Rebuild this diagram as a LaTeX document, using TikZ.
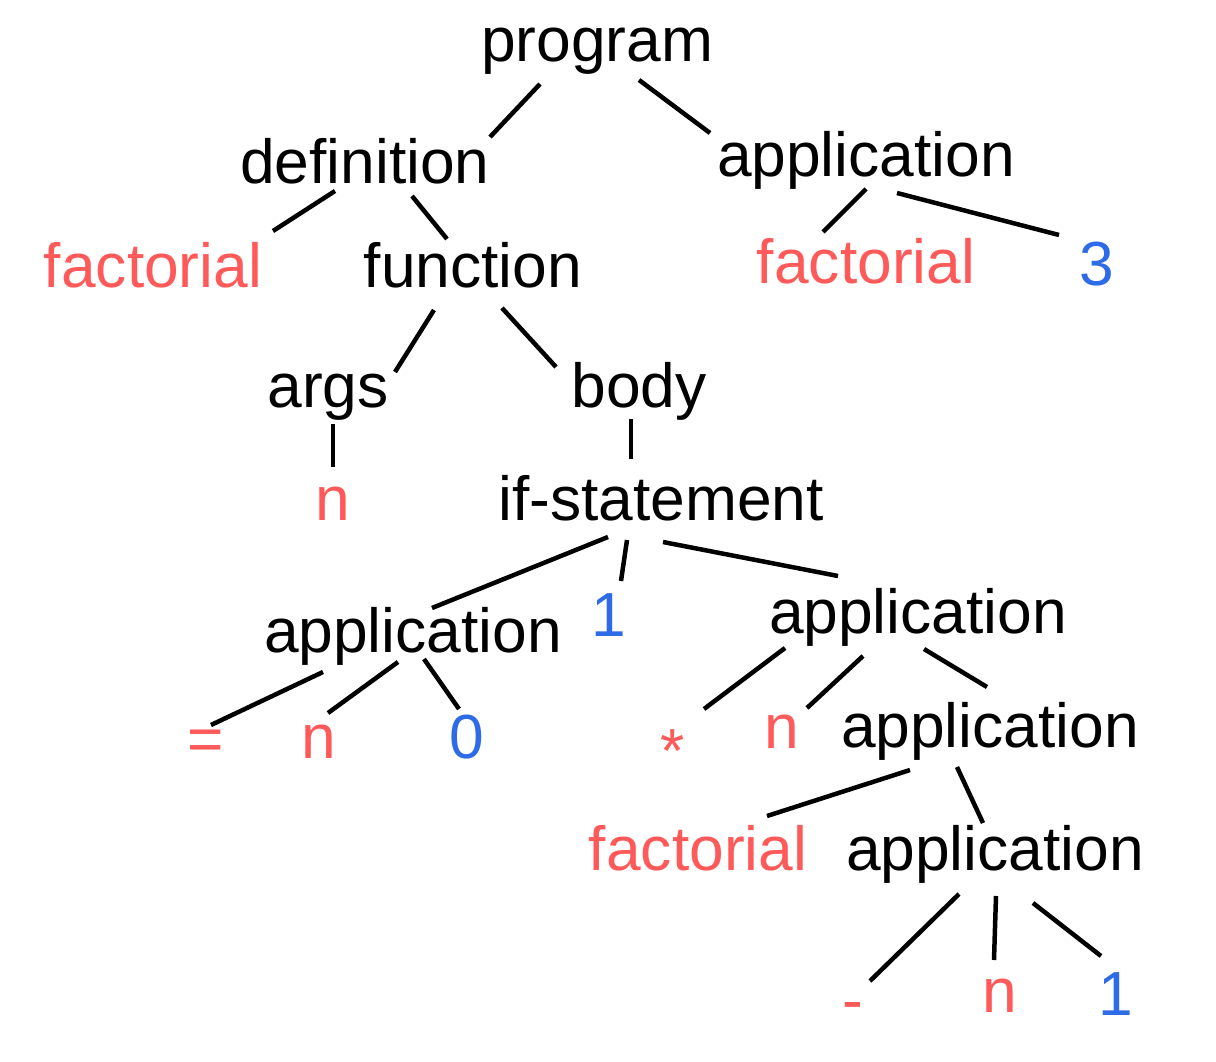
\documentclass[tikz,border=0pt]{standalone}
\usepackage{fontspec}
\setmainfont{Liberation Sans}
\definecolor{tred}{HTML}{FF5A5A}
\definecolor{tblue}{HTML}{2E6BE6}
\begin{document}
\begin{tikzpicture}[x=1pt,y=-1pt,
  lbl/.style={anchor=base,inner sep=0pt,font=\fontsize{62.3}{75}\selectfont},
  leaf/.style={lbl,text=tred},
  num/.style={lbl,text=tblue},
  edge/.style={draw=black,line width=4.5pt}]
\useasboundingbox[fill=white] (0,0) rectangle (1216,1062);
% nodes
\node[lbl]  (prog)  at (597,62)   {program};
\node[lbl]  (def)   at (365,183)  {definition};
\node[lbl]  (appT)  at (866,176)  {application};
\node[leaf] (factL) at (153,287)  {factorial};
\node[lbl]  (func)  at (473,287)  {function};
\node[leaf] (factT) at (866,283)  {factorial};
\node[num]  (three) at (1097,285) {3};
\node[lbl]  (args)  at (328,407)  {args};
\node[lbl]  (body)  at (639,407)  {body};
\node[leaf] (nA)    at (333,520)  {n};
\node[lbl]  (ifs)   at (661,520)  {if-statement};
\node[lbl]  (appL)  at (413,652)  {application};
\node[num]  (oneA)  at (609,636)  {1};
\node[lbl]  (appRa) at (918,633)  {application};
\node[leaf] (eq)    at (206,760)  {=};
\node[leaf] (nL)    at (319,758)  {n};
\node[num]  (zero)  at (467,758)  {0};
\node[leaf] (star)  at (673,772)  {*};
\node[leaf] (nR)    at (782,748)  {n};
\node[lbl]  (appRb) at (990,747)  {application};
\node[leaf] (factR) at (698,870)  {factorial};
\node[lbl]  (appRc) at (995,870)  {application};
\node[leaf] (minus) at (853,1021) {-};
\node[leaf] (nB)    at (1000,1012){n};
\node[num]  (oneB)  at (1116,1015){1};
% connectors
\draw[edge] ([shift={(-57,22)}]prog.base)   -- ([shift={(125,-46)}]def.base);
\draw[edge] ([shift={(42,18)}]prog.base)    -- ([shift={(-156,-43)}]appT.base);
\draw[edge] ([shift={(-30,8)}]def.base)     -- ([shift={(120,-56)}]factL.base);
\draw[edge] ([shift={(47,13)}]def.base)     -- ([shift={(-26,-48)}]func.base);
\draw[edge] ([shift={(0,13)}]appT.base)     -- ([shift={(-43,-51)}]factT.base);
\draw[edge] ([shift={(31,17)}]appT.base)    -- ([shift={(-38,-50)}]three.base);
\draw[edge] ([shift={(-39,23)}]func.base)   -- ([shift={(67,-35)}]args.base);
\draw[edge] ([shift={(29,21)}]func.base)    -- ([shift={(-83,-40)}]body.base);
\draw[edge] ([shift={(5,17)}]args.base)     -- ([shift={(0,-53)}]nA.base);
\draw[edge] ([shift={(-8,12)}]body.base)    -- ([shift={(-30,-61)}]ifs.base);
\draw[edge] ([shift={(-53,17)}]ifs.base)    -- ([shift={(19,-44)}]appL.base);
\draw[edge] ([shift={(-34,20)}]ifs.base)    -- ([shift={(12,-55)}]oneA.base);
\draw[edge] ([shift={(2,22)}]ifs.base)      -- ([shift={(-80,-57)}]appRa.base);
\draw[edge] ([shift={(-90,20)}]appL.base)   -- ([shift={(5,-35)}]eq.base);
\draw[edge] ([shift={(-15,10)}]appL.base)   -- ([shift={(9,-45)}]nL.base);
\draw[edge] ([shift={(11,7)}]appL.base)     -- ([shift={(-8,-49)}]zero.base);
\draw[edge] ([shift={(-133,15)}]appRa.base) -- ([shift={(31,-63)}]star.base);
\draw[edge] ([shift={(-55,23)}]appRa.base)  -- ([shift={(25,-40)}]nR.base);
\draw[edge] ([shift={(6,16)}]appRa.base)    -- ([shift={(-3,-60)}]appRb.base);
\draw[edge] ([shift={(-80,23)}]appRb.base)  -- ([shift={(69,-54)}]factR.base);
\draw[edge] ([shift={(-33,20)}]appRb.base)  -- ([shift={(-12,-47)}]appRc.base);
\draw[edge] ([shift={(-36,24)}]appRc.base)  -- ([shift={(17,-40)}]minus.base);
\draw[edge] ([shift={(1,26)}]appRc.base)    -- ([shift={(-6,-52)}]nB.base);
\draw[edge] ([shift={(38,33)}]appRc.base)   -- ([shift={(-15,-59)}]oneB.base);
\end{tikzpicture}
\end{document}
